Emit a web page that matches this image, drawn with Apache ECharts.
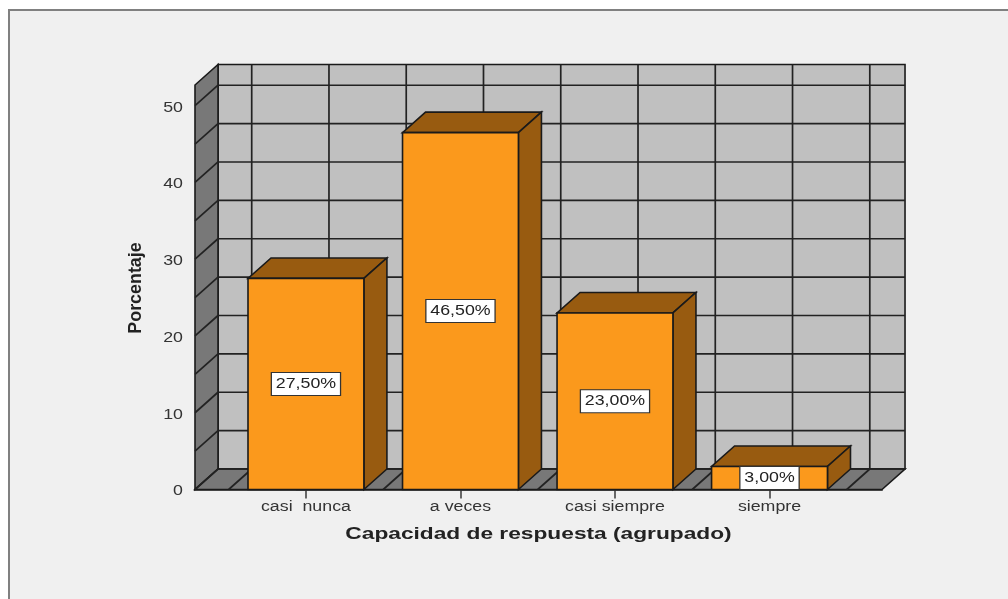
<!DOCTYPE html>
<html>
<head>
<meta charset="utf-8">
<title>Capacidad de respuesta</title>
<script src="https://cdn.jsdelivr.net/npm/echarts@6/dist/echarts.min.js"></script>
<style>
html, body { margin: 0; padding: 0; background: #fff; overflow: hidden; }
#frame { position: absolute; left: 8px; top: 9px; width: 1020px; height: 620px; background: #f0f0f0; border: 2px solid #808080; }
#main { position: absolute; left: 0; top: 0; width: 1008px; height: 599px; }
</style>
</head>
<body>
<div id="frame"></div>
<div id="main"></div>
<script>
const categories = ["casi  nunca", "a veces", "casi siempre", "siempre"];
const percentages = [27.5, 46.5, 23, 3];
const yTicks = [0, 10, 20, 30, 40, 50];
const yGridLines = [0, 5, 10, 15, 20, 25, 30, 35, 40, 45, 50];
const xGridLines = [-0.5, 0, 0.5, 1, 1.5, 2, 2.5, 3, 3.5];
const xTicks = [0, 1, 2, 3];

const xMin = -0.718, xMax = 3.728, yMax = 52.7;
const depthX = 0.149, depthY = 2.67; // 3d offset, in axis units
const barHalf = 0.375;
const lineDark = "#222";
const stretch = 1.27; // the original picture is widened, so the text is too
const labelFont = "14px 'Liberation Sans'";

function poly(points, fill) {
    return {
        type: "polygon",
        shape: { points: points },
        style: { fill: fill, stroke: "#1a1a1a", lineWidth: 1.6 }
    };
}
function seg(a, b, width) {
    return {
        type: "line",
        shape: { x1: a[0], y1: a[1], x2: b[0], y2: b[1] },
        style: { stroke: lineDark, lineWidth: width || 1.7 }
    };
}

function renderWalls(params, api) {
    const front = (x, y) => api.coord([x, y]);
    const back = (x, y) => api.coord([x + depthX, y + depthY]);
    const children = [
        poly([back(xMin, 0), back(xMax, 0), back(xMax, yMax), back(xMin, yMax)], "#c0c0c0"),
        poly([front(xMin, 0), back(xMin, 0), back(xMin, yMax), front(xMin, yMax)], "#787878"),
        poly([front(xMin, 0), front(xMax, 0), back(xMax, 0), back(xMin, 0)], "#787878")
    ];
    yGridLines.forEach(v => {
        children.push(seg(back(xMin, v), back(xMax, v)));
        children.push(seg(front(xMin, v), back(xMin, v)));
    });
    xGridLines.forEach(x => {
        children.push(seg(back(x, 0), back(x, yMax)));
        children.push(seg(front(x, 0), back(x, 0)));
    });
    return { type: "group", children: children };
}

function renderBar(params, api) {
    const i = api.value(0), v = api.value(1);
    const x0 = i - barHalf, x1 = i + barHalf;
    const f = (x, y) => api.coord([x, y]);
    const b = (x, y) => api.coord([x + depthX, y + depthY]);
    const mid = f(i, v / 2);
    return {
        type: "group",
        children: [
            poly([f(x0, v), f(x1, v), b(x1, v), b(x0, v)], "#985b10"),
            poly([f(x1, 0), b(x1, 0), b(x1, v), f(x1, v)], "#985b10"),
            poly([f(x0, 0), f(x1, 0), f(x1, v), f(x0, v)], "#fb991c"),
            {
                type: "text",
                x: mid[0],
                y: mid[1],
                scaleX: stretch,
                style: {
                    text: v.toFixed(2).replace(".", ",") + "%",
                    font: labelFont,
                    fill: "#222",
                    align: "center",
                    verticalAlign: "middle",
                    backgroundColor: "#fff",
                    borderColor: "#333",
                    borderWidth: 1,
                    padding: [4, 3, 4, 3]
                }
            }
        ]
    };
}

function renderXLabel(params, api) {
    const i = api.value(0);
    const p = api.coord([i, 0]);
    return {
        type: "text",
        x: p[0],
        y: p[1] + 18,
        scaleX: stretch,
        style: { text: categories[i], font: labelFont, fill: "#333", align: "center", verticalAlign: "middle" }
    };
}

function renderYLabel(params, api) {
    const v = api.value(1);
    const p = api.coord([xMin, v]);
    return {
        type: "text",
        x: p[0] - 12,
        y: p[1] + 2,
        scaleX: stretch,
        style: { text: String(v), font: labelFont, fill: "#333", align: "right", verticalAlign: "middle" }
    };
}

const chart = echarts.init(document.getElementById("main"), null, { renderer: "canvas" });
chart.setOption({
    animation: false,
    backgroundColor: "transparent",
    grid: { left: 195, right: 126, top: 85, bottom: 109.5 },
    xAxis: {
        type: "value",
        min: xMin,
        max: xMax,
        splitLine: { show: false },
        axisLine: { show: true, lineStyle: { color: lineDark, width: 1.7 } },
        axisTick: { show: true, length: 9, customValues: xTicks, lineStyle: { color: "#444", width: 1.6 } },
        axisLabel: { show: false }
    },
    yAxis: {
        type: "value",
        min: 0,
        max: yMax,
        splitLine: { show: false },
        axisLine: { show: true, lineStyle: { color: lineDark, width: 1.7 } },
        axisTick: { show: true, length: 10, customValues: yTicks, lineStyle: { color: "#444", width: 1.6 } },
        axisLabel: { show: false }
    },
    graphic: [
        {
            type: "text",
            x: 538.5,
            y: 535,
            scaleX: 1.42,
            style: {
                text: "Capacidad de respuesta (agrupado)",
                font: "bold 16px 'Liberation Sans'",
                fill: "#222",
                align: "center",
                verticalAlign: "middle"
            }
        },
        {
            type: "text",
            x: 136,
            y: 288,
            rotation: Math.PI / 2,
            scaleX: 0.94,
            style: {
                text: "Porcentaje",
                font: "bold 19px 'Liberation Sans'",
                fill: "#222",
                align: "center",
                verticalAlign: "middle"
            }
        }
    ],
    series: [
        { type: "custom", renderItem: renderWalls, data: [[0, 0]], z: 1, silent: true },
        { type: "custom", renderItem: renderBar, data: percentages.map((v, i) => [i, v]), z: 2, silent: true },
        { type: "custom", renderItem: renderXLabel, data: xTicks.map(i => [i, 0]), z: 3, silent: true },
        { type: "custom", renderItem: renderYLabel, data: yTicks.map(v => [0, v]), z: 3, silent: true }
    ]
});
</script>
</body>
</html>
